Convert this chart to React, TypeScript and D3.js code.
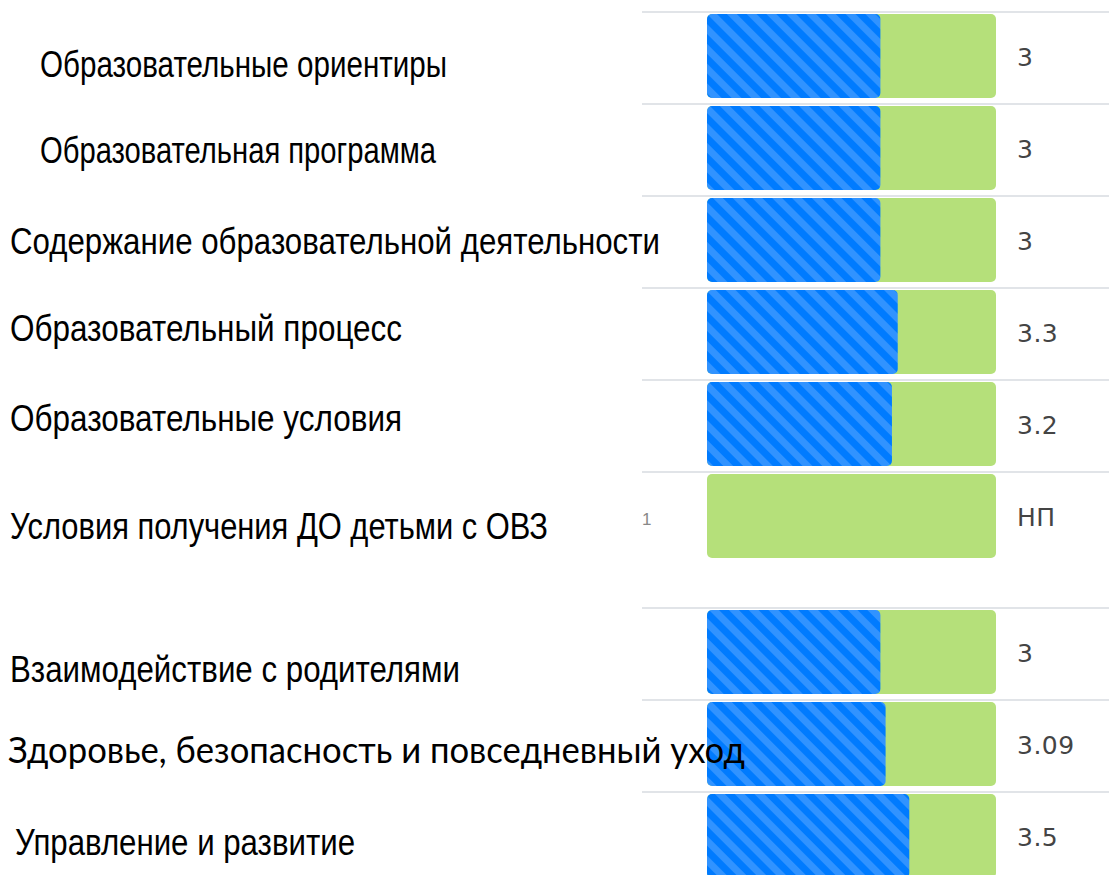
import React from "react";
import * as d3 from "d3";

// ---- data ----
const categories: string[] = [
  "Образовательные ориентиры",
  "Образовательная программа",
  "Содержание образовательной деятельности",
  "Образовательный процесс",
  "Образовательные условия",
  "Условия получения ДО детьми с ОВЗ",
  "Взаимодействие с родителями",
  "Здоровье, безопасность и повседневный уход",
  "Управление и развитие",
];
const scores: (number | null)[] = [3, 3, 3, 3.3, 3.2, null, 3, 3.09, 3.5];
const valueLabels: string[] = ["3", "3", "3", "3.3", "3.2", "НП", "3", "3.09", "3.5"];
const scaleMax = 5;
const stray = "1";

// ---- layout (not data) ----
const W = 1109;
const H = 875;
const rowStep = 92;
const firstRowY = 12;
const groupGapAfter = 5; // extra space after this row index
const groupGap = 44;
const barH = 84;
const labelX = [40, 40, 10, 10, 10, 10, 10, 8, 15];
const labelW = [407, 396, 650, 392, 392, 538, 450, 737, 340];
const labelDy = [8, 2, 1, -4, -6, 10, 17, 6, 6];

export default function App() {
  const x = d3.scaleLinear().domain([0, scaleMax]).range([707, 996]);
  const rowTop = (i: number) =>
    firstRowY + i * rowStep + (i > groupGapAfter ? groupGap : 0);

  return (
    <svg
      width={W}
      height={H}
      style={{ position: "absolute", left: 0, top: 0, display: "block", background: "#fff" }}
    >
      <defs>
        <pattern
          id="stripes"
          patternUnits="userSpaceOnUse"
          width={14}
          height={14}
          patternTransform="rotate(-45)"
        >
          <rect width={14} height={14} fill="#007bff" />
          <rect width={7} height={14} fill="#3193ff" />
        </pattern>
      </defs>

      {categories.map((c, i) => {
        const top = rowTop(i);
        const by = top + 2;
        const cy = by + barH / 2;
        const v = scores[i];
        return (
          <g key={c}>
            <line x1={642} x2={W} y1={top} y2={top} stroke="#e1e4e8" strokeWidth={2} />
            <rect x={x(0)} y={by} width={x(scaleMax) - x(0)} height={barH} rx={5} fill="#b5e07a" />
            {v != null && (
              <rect x={x(0)} y={by} width={x(v) - x(0)} height={barH} rx={5} fill="url(#stripes)" />
            )}
            <text
              x={1017}
              y={cy + 10}
              fontFamily="'DejaVu Sans', 'Liberation Sans', sans-serif"
              fontSize={25}
              letterSpacing={0.5}
              fill="#444"
            >
              {valueLabels[i]}
            </text>
          </g>
        );
      })}

      <text
        x={642}
        y={rowTop(5) + 2 + barH / 2 + 9}
        fontFamily="'Liberation Sans', Arial, sans-serif"
        fontSize={17}
        fill="#888"
      >
        {stray}
      </text>

      {categories.map((c, i) => {
        const cy = rowTop(i) + 2 + barH / 2 + labelDy[i];
        const special = i === 7;
        return (
          <text
            key={"l" + c}
            x={labelX[i]}
            y={cy + 13}
            textLength={labelW[i]}
            lengthAdjust="spacingAndGlyphs"
            fontFamily={
              special
                ? "Lato, 'Open Sans', sans-serif"
                : "'Liberation Sans Narrow', 'Liberation Sans', Arial, sans-serif"
            }
            fontSize={36}
            fill="#000"
          >
            {c}
          </text>
        );
      })}
    </svg>
  );
}
